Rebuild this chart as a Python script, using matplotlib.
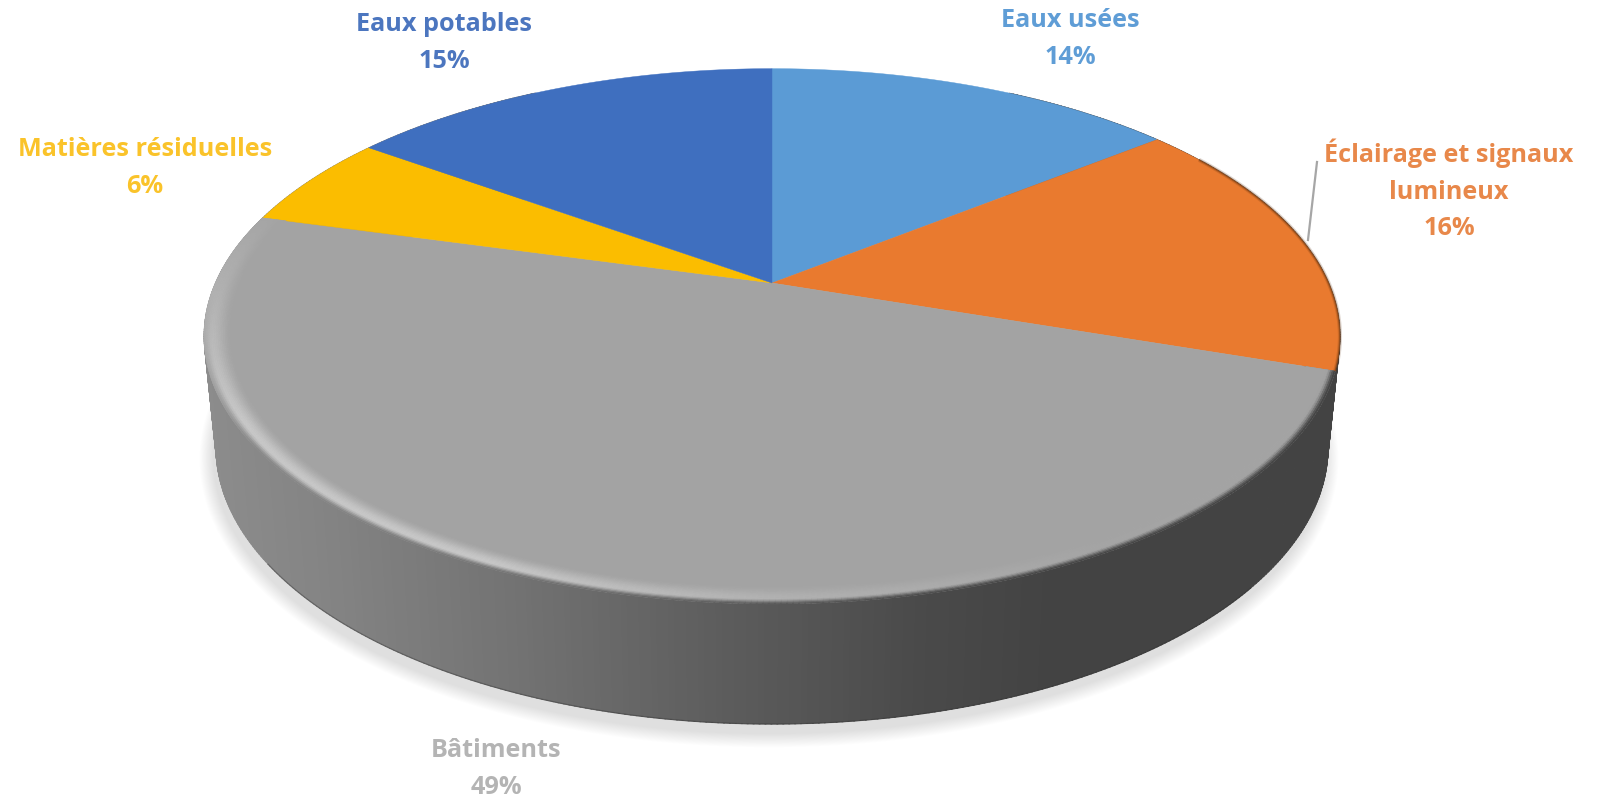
import numpy as np
import matplotlib
matplotlib.use("Agg")
import matplotlib.pyplot as plt
from matplotlib.collections import PolyCollection
from matplotlib.colors import to_rgb

# ---- data ----
categories = ["Eaux usées", "Éclairage et signaux\nlumineux", "Bâtiments",
              "Matières résiduelles", "Eaux potables"]
values = [14.2, 16.0, 49.1, 5.7, 15.0]
slice_colors = ["#5B9BD5", "#E97A2F", "#A3A3A3", "#FBBD00", "#3F6FBF"]
label_colors = ["#5F9DD6", "#E8884A", "#B4B4B4", "#FAC32A", "#4C76BF"]

# ---- layout (pixels) ----
W, H = 1603, 798
label_xy = [(1070, 39), (1449, 190), (496, 769), (145, 168), (444, 43)]
persp = 0.199
top_geom = dict(cx=772, cy=283, a=556.6, b=257)
bot_geom = dict(cx=772, cy=392, a=545, b=266)
BEVEL = 0.048


def project(theta_deg, r, g):
    th = np.radians(theta_deg)
    x, y = r * np.sin(th), r * np.cos(th)
    w = 1 + persp * y
    return g["cx"] + g["a"] * x / w, g["cy"] - g["b"] * y / w


def mix(c1, c2, t):
    c1, c2 = np.asarray(c1, float), np.asarray(c2, float)
    return tuple(np.clip(c1 + (c2 - c1) * t, 0, 1))


def side_gray(x):
    v = np.interp(x, [205, 320, 520, 720, 920, 1050, 1345],
                  [0x8C, 0x84, 0x72, 0x5D, 0x4A, 0x43, 0x43])
    return (v / 255,) * 3


fig = plt.figure(figsize=(W / 100, H / 100), dpi=100, facecolor="white")
ax = fig.add_axes([0, 0, 1, 1])
ax.set_xlim(0, W)
ax.set_ylim(H, 0)
ax.axis("off")

# soft shadow under the disc
tt = np.linspace(0, 360, 361)
for s in np.linspace(1.04, 1.0, 16):
    g = dict(cx=bot_geom["cx"] - 3, cy=bot_geom["cy"] + 10,
             a=bot_geom["a"] * (1 + (s - 1) * 0.6), b=bot_geom["b"] * s)
    px, py = project(tt, 1.0, g)
    ax.fill(px, py, color="black", alpha=0.009, lw=0, zorder=1)

# cumulative angles
fractions = np.array(values, float) / np.sum(values)
edges = np.concatenate([[0], np.cumsum(fractions) * 360])

# side wall
quads, cols = [], []
steps = np.arange(30, 330, 0.5)
order = np.argsort(np.abs(steps - 180))[::-1]
for th in steps[order]:
    ang = np.array([th, th + 0.6])
    tx, ty = project(ang, 1.0, top_geom)
    bx, by = project(ang, 1.0, bot_geom)
    quads.append(np.column_stack([np.r_[tx, bx[::-1]], np.r_[ty, by[::-1]]]))
    cols.append(side_gray(np.mean(tx)))
ax.add_collection(PolyCollection(quads, facecolors=cols, edgecolors=cols,
                                 linewidths=0.6, zorder=2))

# top faces
for i, col in enumerate(slice_colors):
    ang = np.linspace(edges[i], edges[i + 1], 240)
    x, y = project(ang, 1.0, top_geom)
    cx, cy = project(0.0, 0.0, top_geom)
    ax.fill(np.r_[cx, x], np.r_[cy, y], color=col, lw=0.3, zorder=3)

# bevel on the Bâtiments face
base = np.array(to_rgb(slice_colors[2]))
peak_th = [108, 150, 180, 205, 240, 270, 285]
peak_v = [0xA3, 0xA5, 0xB2, 0xC8, 0xC8, 0xB0, 0xA6]
radii = np.linspace(1.0, 1 - BEVEL, 17)
quads, cols = [], []
for th in np.arange(edges[2], edges[3], 0.5):
    ang = np.array([th, min(th + 0.6, edges[3])])
    p = np.interp(th, peak_th, peak_v) / 255
    p_col = (p, p, p)
    tx0, _ = project(th, 1.0, top_geom)
    edge_w = np.interp(th, [235, 268], [1, 0])
    s_col = mix(p_col, side_gray(tx0), edge_w)
    for r0, r1 in zip(radii[:-1], radii[1:]):
        t = (1 - 0.5 * (r0 + r1)) / BEVEL
        if t < 0.3:
            u = t / 0.3
            c = mix(s_col, p_col, u * u * (3 - 2 * u))
        else:
            u = (t - 0.3) / 0.7
            c = mix(p_col, base, u * u * (3 - 2 * u))
        x0, y0 = project(ang, r0, top_geom)
        x1, y1 = project(ang, r1, top_geom)
        quads.append(np.column_stack([np.r_[x0, x1[::-1]], np.r_[y0, y1[::-1]]]))
        cols.append(c)
ax.add_collection(PolyCollection(quads, facecolors=cols, edgecolors=cols,
                                 linewidths=0.4, zorder=4))

# darker rim on the orange face
for lw, al in [(3.0, 0.18), (1.4, 0.4)]:
    ang = np.linspace(58, edges[2], 100)
    x, y = project(ang, 1.0, top_geom)
    ax.plot(x, y, color="#5a2d0c", lw=lw, alpha=al, zorder=5, solid_capstyle="butt")

# thin dark lower edge
ang = np.linspace(130, 235, 200)
x, y = project(ang, 1.0, bot_geom)
ax.plot(x, y, color="#2e2e2e", lw=0.9, alpha=0.4, zorder=5)

# leader line
ax.plot([1317, 1308], [162, 240], color="#A6A6A6", lw=1.6, zorder=5)

# labels
for name, val, col, (lx, ly) in zip(categories, values, label_colors, label_xy):
    ax.text(lx, ly, f"{name}\n{round(val)}%", color=col, ha="center", va="center",
            family="Open Sans", fontweight="bold", fontsize=18.2,
            linespacing=1.6, zorder=6)

fig.savefig("out.png", dpi=100, facecolor="white")
